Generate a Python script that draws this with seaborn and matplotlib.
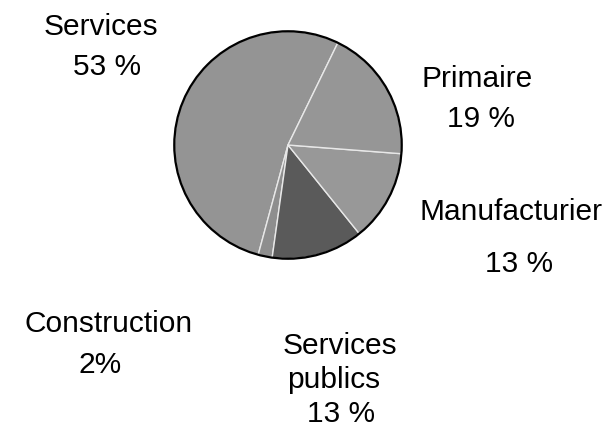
import matplotlib
matplotlib.use("Agg")
import matplotlib.pyplot as plt
import seaborn as sns

# data
sectors = ["Services", "Construction", "Services publics", "Manufacturier", "Primaire"]
shares = [53, 2, 13, 13, 19]
label_lines = [
    ["Services", "53 %"],
    ["Construction", "2%"],
    ["Services", "publics", "13 %"],
    ["Manufacturier", "13 %"],
    ["Primaire", "19 %"],
]

sns.set_theme(style="white")
plt.rcParams["font.family"] = ["Liberation Sans", "DejaVu Sans"]

colors = ["#949494", "#8e8e8e", "#5a5a5a", "#989898", "#969696"]

W, H = 610, 428
fig = plt.figure(figsize=(W / 100, H / 100), dpi=100)

# pie placed in pixel space: centre (288, 145), radius 116
cx, cy, r = 288, 145, 116
ax = fig.add_axes([(cx - r) / W, (H - cy - r) / H, 2 * r / W, 2 * r / H])
wedges, _ = ax.pie(shares, colors=colors, startangle=64, counterclock=True,
                   wedgeprops=dict(edgecolor="#e8e8e8", linewidth=1.0))
ax.add_patch(plt.Circle((0, 0), 1.0, fill=False, edgecolor="black", linewidth=1.6))
ax.set_xlim(-1.02, 1.02)
ax.set_ylim(-1.02, 1.02)
ax.set_aspect("equal")
ax.axis("off")

# text overlay in pixel coordinates
tx = fig.add_axes([0, 0, 1, 1])
tx.set_xlim(0, W)
tx.set_ylim(H, 0)
tx.axis("off")
tx.patch.set_alpha(0)

# (left x, baseline y) of each text line, per sector
line_pos = [
    [(44, 35), (73, 75)],
    [(25, 332), (78, 373)],
    [(283, 354), (287, 388), (307, 422)],
    [(420, 220), (485, 272)],
    [(422, 87), (447, 127)],
]
for lines, pos in zip(label_lines, line_pos):
    for txt, (x, y) in zip(lines, pos):
        tx.text(x, y, txt, fontsize=21.5, ha="left", va="baseline", color="black")

fig.savefig("out.png", dpi=100, facecolor="white")
